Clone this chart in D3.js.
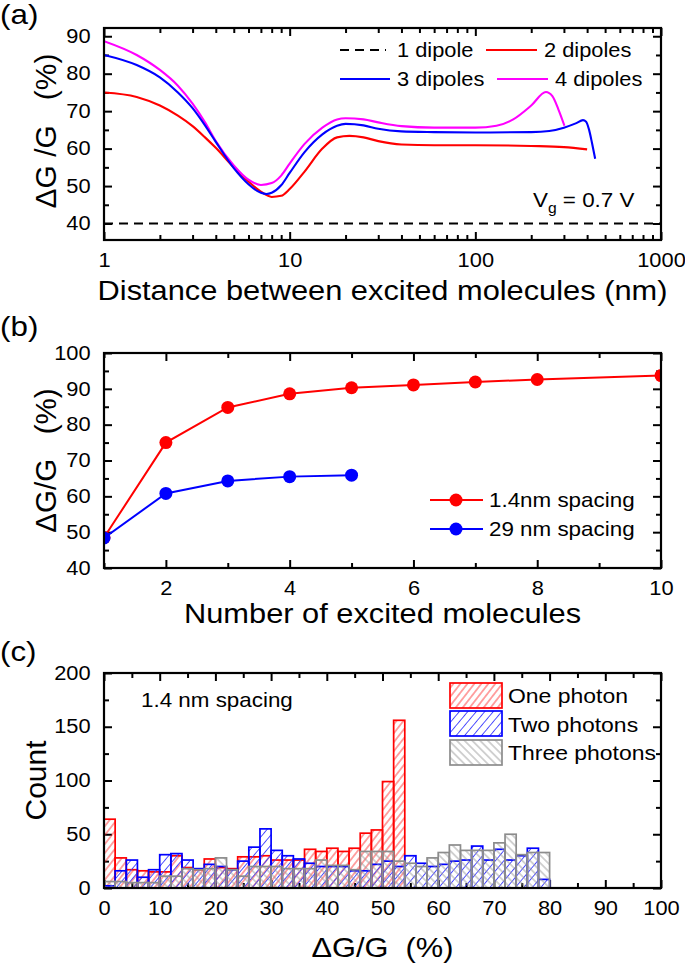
<!DOCTYPE html>
<html><head><meta charset="utf-8">
<script src="https://cdn.jsdelivr.net/npm/d3@7"></script>
<style>
body{margin:0;background:#fff}
text{font-family:"Liberation Sans",Arial,sans-serif;fill:#000}
</style>
</head><body>
<svg id="fig" width="685" height="964"></svg>
<script>
// ---------- DATA ----------
// Panel (a): Delta G/G (%) vs distance between excited molecules (nm)
const distDip1 = [1, 1000];
const dgDip1 = [40, 40];
const distDip2 = [1,1.5,2,2.5,3,3.5,4,5,6,7,8,9,10,12,15,18,21,25,30,40,60,100,200,300,400];
const dgDip2 = [75,73.8,71.5,68.8,66,63,60.2,55,51.2,48.5,47.1,47.4,49.2,53.8,60,63,63.4,63,62,61.1,60.9,60.9,60.7,60.4,59.8];
const distDip3 = [1,1.5,2,2.5,3,3.5,4,5,6,7,7.5,8,9,10,12,15,18,20,25,30,40,60,100,200,250,300,350,380,395,410,425,442];
const dgDip3 = [85,82.3,79,75,70.8,66.2,61.8,54.8,50.5,48.2,47.9,48.2,50.2,53.5,59,63.8,66.1,66.6,66.2,65.3,64.6,64.4,64.3,64.4,64.7,65.6,66.8,67.6,67.2,65,61.5,57.3];
const distDip4 = [1,1.5,2,2.5,3,3.5,4,5,6,7,8,9,10,12,15,18,20,25,30,40,60,100,130,160,200,240,260,280,302];
const dgDip4 = [88.7,85,81,76.8,72,67,62,55.5,51.7,50.3,50.8,52.8,56,61.2,65.6,67.8,68.1,67.8,67,66,65.6,65.6,66.1,67.8,71.5,75.1,74,70.5,66.1];
const legendA = ["1 dipole","2 dipoles","3 dipoles","4 dipoles"];

// Panel (b): Delta G/G vs number of excited molecules
const nMolRed = [1,2,3,4,5,6,7,8,10];
const dgRed = [48.5,75,84.8,88.6,90.3,91.1,91.9,92.6,93.7];
const nMolBlue = [1,2,3,4,5];
const dgBlue = [48.4,60.8,64.3,65.5,65.9];
const legendB = ["1.4nm spacing","29 nm spacing"];

// Panel (c): histogram, bins of 2 % starting at these values
const binStart = [0,2,4,6,8,10,12,14,16,18,20,22,24,26,28,30,32,34,36,38,40,42,44,46,48,50,52,54,56,58,60,62,64,66,68,70,72,74,76,78];
const countOne = [64,28,17,16,15,15,30,19,17,27,19,18,29,29,30,26,26,26,36,34,37,34,37,51,54,99,156,0,0,0,0,0,0,0,0,0,0,0,0,0];
const countTwo = [2,16,26,10,17,31,32,26,18,22,20,17,25,38,55,35,30,27,23,20,20,20,16,16,22,25,20,30,23,20,22,25,26,39,26,36,26,30,37,8];
const countThree = [6,6,5,5,5,11,11,18,17,18,28,17,11,20,20,20,18,18,18,26,21,21,17,34,34,34,25,23,20,28,33,40,35,35,35,42,50,31,33,33];
const legendC = ["One photon","Two photons","Three photons"];

// ---------- LAYOUT ----------
const L = 104, R = 661;
const ST = 1.12; // horizontal text stretch
const svg = d3.select("#fig");
const defs = svg.append("defs");

function txt(g, x, y, s, size, anchor) {
  return g.append("text")
    .attr("transform", `translate(${x},${y}) scale(${ST},1)`)
    .attr("font-size", size)
    .attr("text-anchor", anchor || "start")
    .style("white-space", "pre")
    .text(s);
}
function vtxt(g, x, y, s, size) {
  return g.append("text")
    .attr("transform", `translate(${x},${y}) rotate(-90)`)
    .attr("font-size", size)
    .attr("text-anchor", "middle")
    .style("white-space", "pre")
    .text(s);
}
function axes(g, x, y, top, bottom, xMajor, xMinor, yMajor, yMinor, xFmt, yFmt) {
  const tickFont = 19.5;
  const MJ = -8, MN = -5;
  const styleAx = sel => {
    sel.select(".domain").remove();
    sel.selectAll("line").attr("stroke", "#000").attr("stroke-width", 2);
    sel.selectAll("text").attr("font-size", tickFont).attr("fill", "#000")
      .attr("font-family", '"Liberation Sans",Arial,sans-serif');
  };
  g.append("g").attr("transform", `translate(0,${bottom})`)
    .call(d3.axisBottom(x).tickValues(xMajor).tickSize(MJ).tickPadding(13).tickFormat(xFmt)).call(styleAx)
    .selectAll("text").attr("transform", `scale(${ST},1)`);
  g.append("g").attr("transform", `translate(0,${bottom})`)
    .call(d3.axisBottom(x).tickValues(xMinor).tickSize(MN).tickFormat("")).call(styleAx);
  g.append("g").attr("transform", `translate(0,${top})`)
    .call(d3.axisTop(x).tickValues(xMajor).tickSize(MJ).tickFormat("")).call(styleAx);
  g.append("g").attr("transform", `translate(0,${top})`)
    .call(d3.axisTop(x).tickValues(xMinor).tickSize(MN).tickFormat("")).call(styleAx);
  g.append("g").attr("transform", `translate(${L},0)`)
    .call(d3.axisLeft(y).tickValues(yMajor).tickSize(MJ).tickPadding(12).tickFormat(yFmt)).call(styleAx)
    .selectAll("text").attr("transform", `scale(${ST},1)`);
  g.append("g").attr("transform", `translate(${L},0)`)
    .call(d3.axisLeft(y).tickValues(yMinor).tickSize(MN).tickFormat("")).call(styleAx);
  g.append("g").attr("transform", `translate(${R},0)`)
    .call(d3.axisRight(y).tickValues(yMajor).tickSize(MJ).tickFormat("")).call(styleAx);
  g.append("g").attr("transform", `translate(${R},0)`)
    .call(d3.axisRight(y).tickValues(yMinor).tickSize(MN).tickFormat("")).call(styleAx);
}
function frame(g, top, bottom) {
  g.append("rect").attr("x", L).attr("y", top).attr("width", R - L).attr("height", bottom - top)
    .attr("fill", "none").attr("stroke", "#000").attr("stroke-width", 2.2);
}
function clip(id, top, bottom) {
  defs.append("clipPath").attr("id", id).append("rect")
    .attr("x", L).attr("y", top).attr("width", R - L).attr("height", bottom - top);
}

// ---------- PANEL (a) ----------
{
  const top = 28, bottom = 240;
  const g = svg.append("g");
  const x = d3.scaleLog().domain([1, 1000]).range([L, R]);
  const y = d3.scaleLinear().domain([35.6, 92.2]).range([bottom, top]);
  const allX = x.ticks();
  const xMajor = allX.filter(v => Math.abs(Math.log10(v) - Math.round(Math.log10(v))) < 1e-9);
  const xMinor = allX.filter(v => !xMajor.includes(v));
  const yMajor = d3.range(40, 91, 10);
  const yMinor = d3.range(40, 91, 5).filter(v => v % 10 !== 0);
  axes(g, x, y, top, bottom, xMajor, xMinor, yMajor, yMinor, d3.format("d"), d3.format("d"));
  clip("clipA", top, bottom);
  const pg = g.append("g").attr("clip-path", "url(#clipA)");
  const line = d3.line().x(d => x(d[0])).y(d => y(d[1])).curve(d3.curveMonotoneX);
  const series = [
    {xs: distDip1, ys: dgDip1, c: "#000", dash: "9,6"},
    {xs: distDip2, ys: dgDip2, c: "#ff0000"},
    {xs: distDip3, ys: dgDip3, c: "#0000ff"},
    {xs: distDip4, ys: dgDip4, c: "#ff00ff"}
  ];
  [0, 1, 3, 2].forEach(i => {
    const s = series[i];
    pg.append("path").datum(s.xs.map((d, k) => [d, s.ys[k]]))
      .attr("d", line).attr("fill", "none").attr("stroke", s.c).attr("stroke-width", 2.1)
      .attr("stroke-dasharray", s.dash || null);
  });
  frame(g, top, bottom);
  const lg = [
    {x1: 340, x2: 386, tx: 397, y: 50, ty: 57, i: 0},
    {x1: 486, x2: 537, tx: 544, y: 50, ty: 57, i: 1},
    {x1: 340, x2: 390, tx: 397, y: 79, ty: 86, i: 2},
    {x1: 497, x2: 548, tx: 555, y: 79, ty: 86, i: 3}
  ];
  lg.forEach(o => {
    const s = series[o.i];
    g.append("line").attr("x1", o.x1).attr("x2", o.x2).attr("y1", o.y).attr("y2", o.y)
      .attr("stroke", s.c).attr("stroke-width", 2).attr("stroke-dasharray", s.dash || null);
    txt(g, o.tx, o.ty, legendA[o.i], 19.5);
  });
  const vt = g.append("text").attr("transform", `translate(533,207) scale(${ST},1)`).attr("font-size", 20);
  vt.append("tspan").text("V");
  vt.append("tspan").attr("font-size", 14).attr("dy", 6).text("g");
  vt.append("tspan").attr("dy", -6).style("white-space", "pre").text(" = 0.7 V");
  txt(g, 0, 24, "(a)", 28);
  txt(g, (L + R) / 2, 300, "Distance between excited molecules (nm)", 27.5, "middle");
  vtxt(g, 56, 131, "ΔG /G   (%)", 30);
}

// ---------- PANEL (b) ----------
{
  const top = 353, bottom = 568;
  const g = svg.append("g");
  const x = d3.scaleLinear().domain([1, 10]).range([L, R]);
  const y = d3.scaleLinear().domain([40, 100]).range([bottom, top]);
  axes(g, x, y, top, bottom, [2, 4, 6, 8, 10], [1, 3, 5, 7, 9], d3.range(40, 101, 10), d3.range(45, 100, 10), d3.format("d"), d3.format("d"));
  clip("clipB", top, bottom);
  const pg = g.append("g").attr("clip-path", "url(#clipB)");
  const line = d3.line().x(d => x(d[0])).y(d => y(d[1]));
  const sets = [
    {xs: nMolRed, ys: dgRed, c: "#ff0000"},
    {xs: nMolBlue, ys: dgBlue, c: "#0000ff"}
  ];
  sets.forEach(s => {
    const pts = s.xs.map((d, k) => [d, s.ys[k]]);
    pg.append("path").datum(pts).attr("d", line).attr("fill", "none").attr("stroke", s.c).attr("stroke-width", 2);
    pg.selectAll(null).data(pts).enter().append("circle")
      .attr("cx", d => x(d[0])).attr("cy", d => y(d[1])).attr("r", 6.5).attr("fill", s.c);
  });
  frame(g, top, bottom);
  [[500, 507], [529, 536]].forEach((yy, i) => {
    g.append("line").attr("x1", 430).attr("x2", 483).attr("y1", yy[0]).attr("y2", yy[0])
      .attr("stroke", sets[i].c).attr("stroke-width", 2);
    g.append("circle").attr("cx", 456).attr("cy", yy[0]).attr("r", 6.5).attr("fill", sets[i].c);
    txt(g, 489, yy[1], legendB[i], 20);
  });
  txt(g, 0, 336, "(b)", 28);
  txt(g, (L + R) / 2, 623, "Number of excited molecules", 27.5, "middle");
  vtxt(g, 56, (top + bottom) / 2, "ΔG/G   (%)", 29.5);
}

// ---------- PANEL (c) ----------
{
  const top = 673, bottom = 888;
  const g = svg.append("g");
  const x = d3.scaleLinear().domain([0, 100]).range([L, R]);
  const y = d3.scaleLinear().domain([0, 200]).range([bottom, top]);
  axes(g, x, y, top, bottom, d3.range(0, 101, 10), d3.range(5, 100, 10), d3.range(0, 201, 50), d3.range(25, 200, 50), d3.format("d"), d3.format("d"));
  const pats = [
    {id: "hatchRed", c: "#ff0000", hc: "#ff3030", w: 5.5, rot: 38},
    {id: "hatchBlue", c: "#0000ff", hc: "#3a3aff", w: 6.5, rot: 40},
    {id: "hatchGray", c: "#8c8c8c", hc: "#9a9a9a", w: 5.5, rot: -45}
  ];
  pats.forEach(p => {
    const pt = defs.append("pattern").attr("id", p.id).attr("patternUnits", "userSpaceOnUse")
      .attr("width", p.w).attr("height", 10).attr("patternTransform", `rotate(${p.rot})`);
    pt.append("line").attr("x1", p.w / 2).attr("x2", p.w / 2).attr("y1", 0).attr("y2", 10)
      .attr("stroke", p.hc).attr("stroke-width", 0.9);
  });
  const hs = [countOne, countTwo, countThree];
  const binW = 2;
  hs.forEach((counts, si) => {
    g.append("g").selectAll("rect").data(binStart.map((b, k) => [b, counts[k]]).filter(d => d[1] > 0))
      .enter().append("rect")
      .attr("x", d => x(d[0])).attr("width", d => x(d[0] + binW) - x(d[0]))
      .attr("y", d => y(d[1])).attr("height", d => y(0) - y(d[1]))
      .attr("fill", `url(#${pats[si].id})`).attr("stroke", pats[si].c).attr("stroke-width", 1.7);
  });
  frame(g, top, bottom);
  const rows = [[683, 703], [711, 732], [740, 760]];
  rows.forEach((r, i) => {
    g.append("rect").attr("x", 450).attr("y", r[0]).attr("width", 52).attr("height", 25)
      .attr("fill", `url(#${pats[i].id})`).attr("stroke", pats[i].c).attr("stroke-width", 1.7);
    txt(g, 508, r[1], legendC[i], 20.5);
  });
  txt(g, 141, 707, "1.4 nm spacing", 20);
  txt(g, 0, 661, "(c)", 28);
  txt(g, (L + R) / 2, 957, "ΔG/G  (%)", 27.5, "middle");
  vtxt(g, 46, (top + bottom) / 2, "Count", 30);
}
</script>
</body></html>
